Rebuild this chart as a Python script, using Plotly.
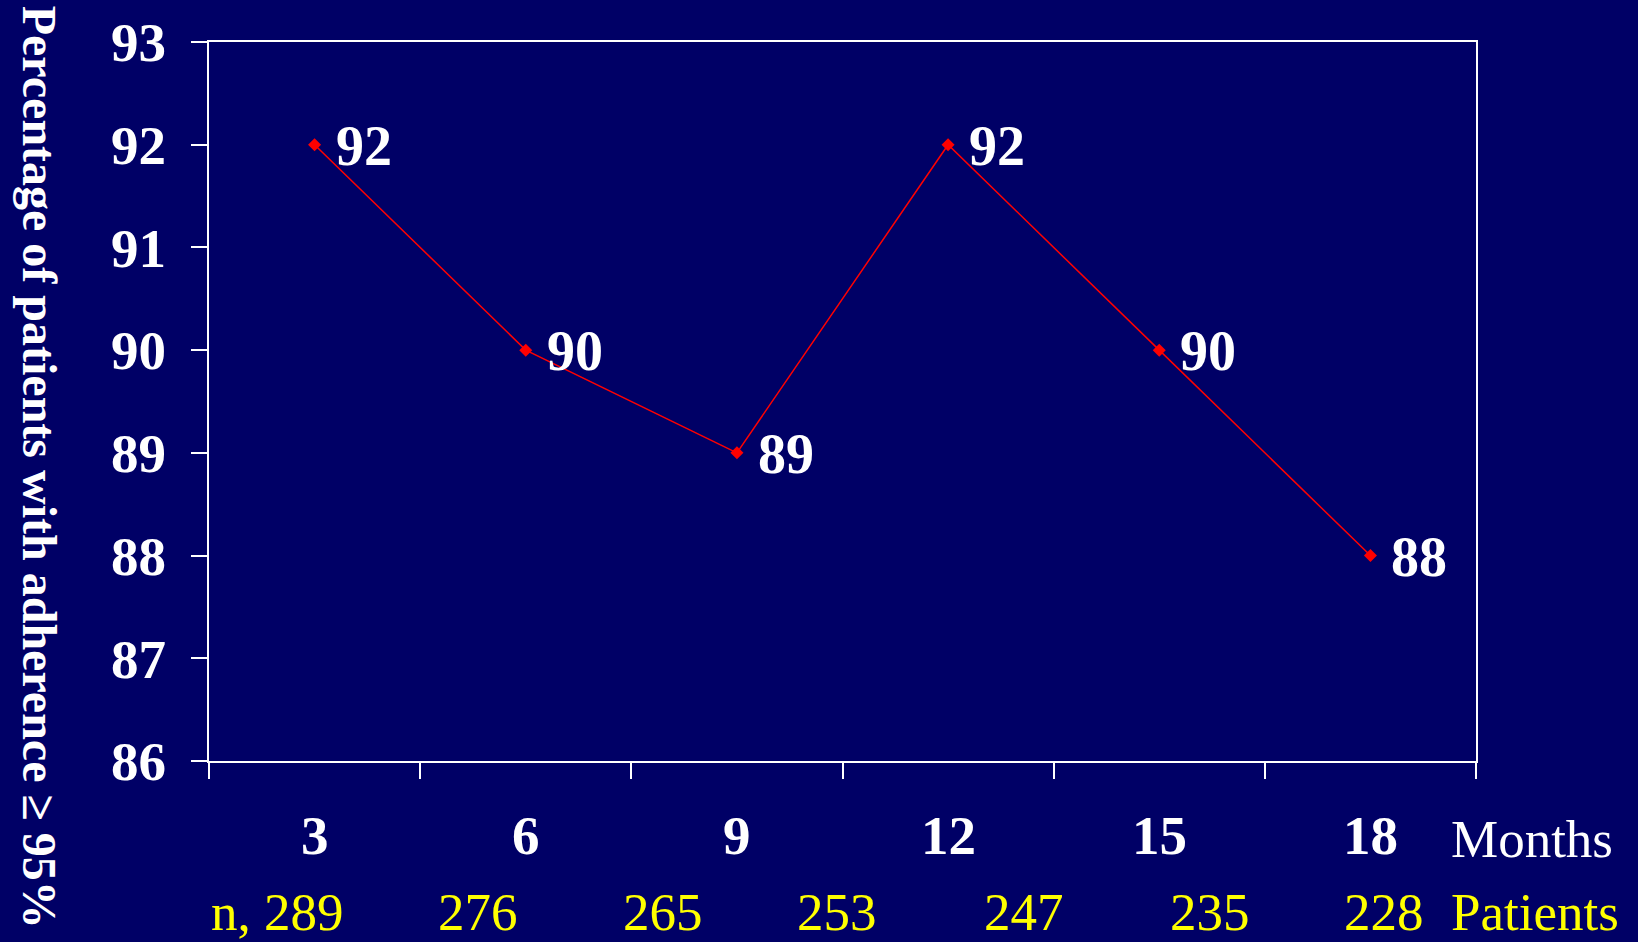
import plotly.graph_objects as go

months = ["3", "6", "9", "12", "15", "18"]
adherence = [92, 90, 89, 92, 90, 88]
patients = ["n, 289", "276", "265", "253", "247", "235", "228"]
patient_xpos = [0.054, 0.2123, 0.3583, 0.4957, 0.6433, 0.790, 0.9274]
y_ticks = [86, 87, 88, 89, 90, 91, 92, 93]

BG = "#000066"
SERIF = "Liberation Serif, Times New Roman, serif"

x_idx = list(range(len(months)))

fig = go.Figure()
fig.add_trace(go.Scatter(
    x=x_idx, y=adherence, mode="lines+markers",
    line=dict(color="#FF0000", width=1.5),
    marker=dict(symbol="diamond", size=10, color="#FF0000"),
    hoverinfo="skip", showlegend=False,
))

annotations = []
for xi, v in zip(x_idx, adherence):
    annotations.append(dict(
        x=xi, y=v, xref="x", yref="y", text=f"<b>{v}</b>", showarrow=False,
        xanchor="left", yanchor="middle", xshift=19, yshift=-1,
        font=dict(family=SERIF, size=56, color="white"),
    ))
for xi, m in zip(x_idx, months):
    annotations.append(dict(
        x=xi, y=-0.104, xref="x", yref="paper", text=f"<b>{m}</b>", showarrow=False,
        xanchor="center", yanchor="middle",
        font=dict(family=SERIF, size=55, color="white"),
    ))
for px, p in zip(patient_xpos, patients):
    annotations.append(dict(
        x=px, y=-0.21, xref="paper", yref="paper", text=p, showarrow=False,
        xanchor="center", yanchor="middle",
        font=dict(family=SERIF, size=53, color="#FFFF00"),
    ))
annotations.append(dict(
    x=0.979, y=-0.108, xref="paper", yref="paper", text="Months", showarrow=False,
    xanchor="left", yanchor="middle",
    font=dict(family=SERIF, size=53, color="white"),
))
annotations.append(dict(
    x=0.979, y=-0.21, xref="paper", yref="paper", text="Patients", showarrow=False,
    xanchor="left", yanchor="middle",
    font=dict(family=SERIF, size=53, color="#FFFF00"),
))
annotations.append(dict(
    x=-0.134, y=0.409, xref="paper", yref="paper",
    text="<b>Percentage of patients with adherence \u2265 95%</b>", showarrow=False,
    textangle=90, xanchor="center", yanchor="middle",
    font=dict(family=SERIF, size=48, color="white"),
))

fig.update_layout(
    width=1638, height=942,
    margin=dict(l=209, r=162, t=42, b=181),
    paper_bgcolor=BG, plot_bgcolor=BG,
    annotations=annotations,
    xaxis=dict(
        range=[-0.5, len(months) - 0.5],
        tickvals=[i - 0.5 for i in range(len(months) + 1)],
        ticktext=[""] * (len(months) + 1),
        ticks="outside", ticklen=16, tickwidth=2, tickcolor="white",
        showline=True, linecolor="white", linewidth=2, mirror=True,
        showgrid=False, zeroline=False,
    ),
    yaxis=dict(
        range=[86, 93], tickvals=y_ticks,
        ticktext=[f"<b>{t}</b>" for t in y_ticks],
        ticks="outside", ticklen=16, tickwidth=2, tickcolor="white",
        tickfont=dict(family=SERIF, size=55, color="white"),
        ticklabelstandoff=14,
        showline=True, linecolor="white", linewidth=2, mirror=True,
        showgrid=False, zeroline=False,
    ),
)

fig.write_html("out.html")
